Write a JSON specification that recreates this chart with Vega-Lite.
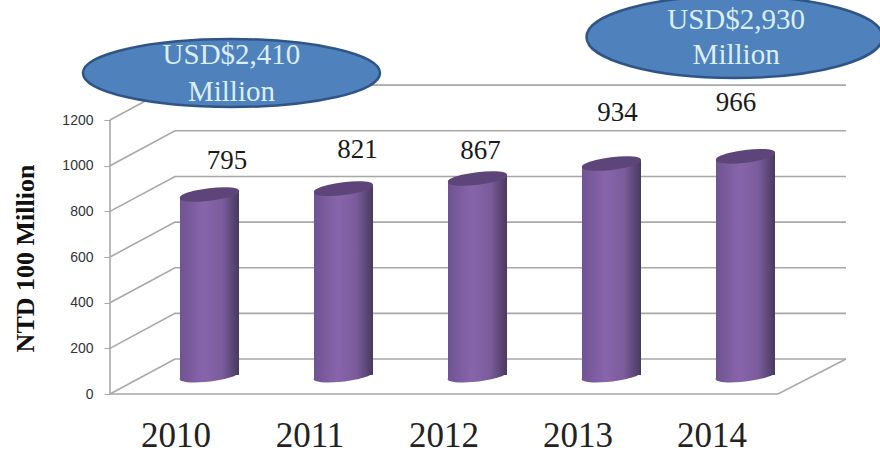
{
  "$schema": "https://vega.github.io/schema/vega-lite/v6.json",
  "width": 770,
  "height": 394,
  "autosize": "none",
  "padding": {"left": 110, "top": 0, "right": 0, "bottom": 60},
  "background": "white",
  "view": {"stroke": null},
  "datasets": {
    "revenue": [
      {"year": 2010, "value": 795},
      {"year": 2011, "value": 821},
      {"year": 2012, "value": 867},
      {"year": 2013, "value": 934},
      {"year": 2014, "value": 966}
    ],
    "walls": [
      {"edge": "g0", "pos": 2009.2575, "level": 0},
      {"edge": "g0", "pos": 2009.7425, "level": 153},
      {"edge": "g0", "pos": 2014.75, "level": 153},
      {"edge": "g200", "pos": 2009.2575, "level": 200},
      {"edge": "g200", "pos": 2009.7425, "level": 353},
      {"edge": "g200", "pos": 2014.75, "level": 353},
      {"edge": "g400", "pos": 2009.2575, "level": 400},
      {"edge": "g400", "pos": 2009.7425, "level": 553},
      {"edge": "g400", "pos": 2014.75, "level": 553},
      {"edge": "g600", "pos": 2009.2575, "level": 600},
      {"edge": "g600", "pos": 2009.7425, "level": 753},
      {"edge": "g600", "pos": 2014.75, "level": 753},
      {"edge": "g800", "pos": 2009.2575, "level": 800},
      {"edge": "g800", "pos": 2009.7425, "level": 953},
      {"edge": "g800", "pos": 2014.75, "level": 953},
      {"edge": "g1000", "pos": 2009.2575, "level": 1000},
      {"edge": "g1000", "pos": 2009.7425, "level": 1153},
      {"edge": "g1000", "pos": 2014.75, "level": 1153},
      {"edge": "g1200", "pos": 2009.2575, "level": 1200},
      {"edge": "g1200", "pos": 2009.7425, "level": 1353},
      {"edge": "g1200", "pos": 2014.75, "level": 1353},
      {"edge": "floor", "pos": 2009.2575, "level": 1200},
      {"edge": "floor", "pos": 2009.2575, "level": 0},
      {"edge": "floor", "pos": 2014.243, "level": 0},
      {"edge": "floor", "pos": 2014.75, "level": 153}
    ],
    "calloutA": [{"pos": 2010.164, "level": 1406}],
    "calloutB": [{"pos": 2013.918, "level": 1564}],
    "calloutText": [
      {"pos": 2010.164, "level": 1485, "line": "USD$2,410"},
      {"pos": 2010.164, "level": 1323, "line": "Million"},
      {"pos": 2013.93, "level": 1638, "line": "USD$2,930"},
      {"pos": 2013.93, "level": 1485, "line": "Million"}
    ]
  },
  "resolve": {"scale": {"y": "independent"}},
  "layer": [
    {
      "layer": [
        {
          "data": {"name": "walls"},
          "mark": {"type": "line", "color": "#a8a8a8", "strokeWidth": 1.6, "clip": false},
          "encoding": {
            "x": {
              "field": "pos",
              "type": "quantitative",
              "scale": {"domain": [2009.2575, 2015.0037], "nice": false, "zero": false, "padding": 0},
              "axis": {
                "values": [2010, 2011, 2012, 2013, 2014],
                "format": "d",
                "title": null,
                "grid": false,
                "domain": false,
                "ticks": false,
                "labelFont": "Liberation Serif",
                "labelFontSize": 35,
                "labelColor": "#222222",
                "labelPadding": 41,
                "labelOffset": -34,
                "labelBaseline": "middle"
              }
            },
            "y": {
              "field": "level",
              "type": "quantitative",
              "scale": {"domain": [0, 1725.8], "nice": false, "zero": false},
              "axis": {
                "values": [0, 200, 400, 600, 800, 1000, 1200],
                "title": "NTD 100 Million",
                "titleFont": "Liberation Serif",
                "titleFontSize": 26,
                "titleFontWeight": "bold",
                "titleColor": "#111111",
                "titleX": -85,
                "titleY": 258,
                "titleBaseline": "middle",
                "format": "d",
                "grid": false,
                "domain": false,
                "tickColor": "#a8a8a8",
                "tickSize": 6,
                "labelFont": "Liberation Sans",
                "labelFontSize": 14,
                "labelColor": "#333333",
                "labelPadding": 11
              }
            },
            "detail": {"field": "edge"},
            "order": {"field": "pos"}
          }
        },
        {
          "data": {"name": "calloutA"},
          "mark": {"type": "point", "filled": true, "opacity": 1, "clip": false, "shape": "M-1,0 A1,.229 0 1 1 1,0 A1,.229 0 1 1 -1,0 Z", "size": 88209, "fill": "#4f81bd", "stroke": "#2f5587", "strokeWidth": 2.5},
          "encoding": {
            "x": {"field": "pos", "type": "quantitative"},
            "y": {"field": "level", "type": "quantitative"}
          }
        },
        {
          "data": {"name": "calloutB"},
          "mark": {"type": "point", "filled": true, "opacity": 1, "clip": false, "shape": "M-1,0 A1,.277 0 1 1 1,0 A1,.277 0 1 1 -1,0 Z", "size": 87616, "fill": "#4f81bd", "stroke": "#2f5587", "strokeWidth": 2.5},
          "encoding": {
            "x": {"field": "pos", "type": "quantitative"},
            "y": {"field": "level", "type": "quantitative"}
          }
        },
        {
          "data": {"name": "calloutText"},
          "mark": {"type": "text", "font": "Liberation Serif", "fontSize": 29, "color": "#d9eef5", "baseline": "middle", "align": "center"},
          "encoding": {
            "x": {"field": "pos", "type": "quantitative"},
            "y": {"field": "level", "type": "quantitative"},
            "text": {"field": "line"}
          }
        }
      ]
    },
    {
      "data": {"name": "revenue"},
      "encoding": {
        "x": {"field": "year", "type": "quantitative"},
        "y": {
          "field": "value",
          "type": "quantitative",
          "scale": {"domain": [-85.4, 1684.6], "nice": false, "zero": false},
          "axis": null
        }
      },
      "layer": [
        {
          "mark": {
            "type": "bar",
            "size": 59,
            "orient": "vertical",
            "color": {"x1": 0, "y1": 0, "x2": 1, "y2": 0, "gradient": "linear", "stops": [{"offset": 0, "color": "#6f5392"}, {"offset": 0.4, "color": "#8865ab"}, {"offset": 0.72, "color": "#7a5b9b"}, {"offset": 1, "color": "#483a5e"}]}
          }
        },
        {
          "mark": {
            "type": "point", "filled": true, "opacity": 1, "size": 3481, "strokeWidth": 0,
            "shape": "M-1,-.2 L1,-.2 L1,-.07 A1,.2 -7 0 1 -1,.1 Z",
            "fill": {"x1": 0, "y1": 0, "x2": 1, "y2": 0, "gradient": "linear", "stops": [{"offset": 0, "color": "#6f5392"}, {"offset": 0.4, "color": "#8865ab"}, {"offset": 0.72, "color": "#7a5b9b"}, {"offset": 1, "color": "#483a5e"}]}
          },
          "encoding": {"y": {"datum": 0, "type": "quantitative"}}
        },
        {
          "mark": {
            "type": "point", "filled": true, "opacity": 1, "size": 3481, "strokeWidth": 0,
            "shape": "M-1,0 L1,-.24 L1,.2 L-1,.2 Z",
            "fill": {"x1": 0, "y1": 0, "x2": 1, "y2": 0, "gradient": "linear", "stops": [{"offset": 0, "color": "#6f5392"}, {"offset": 0.4, "color": "#8865ab"}, {"offset": 0.72, "color": "#7a5b9b"}, {"offset": 1, "color": "#483a5e"}]}
          }
        },
        {
          "mark": {
            "type": "point", "filled": true, "opacity": 1, "size": 3481, "strokeWidth": 0,
            "shape": "M-1,0 A1.01,.2 -7 1 1 1,-.24 A1.01,.2 -7 1 1 -1,0 Z",
            "fill": "#5d4579"
          }
        },
        {
          "transform": [{"filter": "datum.year === 2010"}],
          "mark": {"type": "text", "font": "Liberation Serif", "fontSize": 27, "color": "#1a1a1a", "baseline": "middle", "dx": 17.5, "dy": -37},
          "encoding": {"text": {"field": "value", "type": "quantitative"}}
        },
        {
          "transform": [{"filter": "datum.year === 2011"}],
          "mark": {"type": "text", "font": "Liberation Serif", "fontSize": 27, "color": "#1a1a1a", "baseline": "middle", "dx": 14, "dy": -42},
          "encoding": {"text": {"field": "value", "type": "quantitative"}}
        },
        {
          "transform": [{"filter": "datum.year === 2012"}],
          "mark": {"type": "text", "font": "Liberation Serif", "fontSize": 27, "color": "#1a1a1a", "baseline": "middle", "dx": 3, "dy": -31},
          "encoding": {"text": {"field": "value", "type": "quantitative"}}
        },
        {
          "transform": [{"filter": "datum.year === 2013"}],
          "mark": {"type": "text", "font": "Liberation Serif", "fontSize": 27, "color": "#1a1a1a", "baseline": "middle", "dx": 6, "dy": -54},
          "encoding": {"text": {"field": "value", "type": "quantitative"}}
        },
        {
          "transform": [{"filter": "datum.year === 2014"}],
          "mark": {"type": "text", "font": "Liberation Serif", "fontSize": 27, "color": "#1a1a1a", "baseline": "middle", "dx": -9.5, "dy": -57},
          "encoding": {"text": {"field": "value", "type": "quantitative"}}
        }
      ]
    }
  ]
}
